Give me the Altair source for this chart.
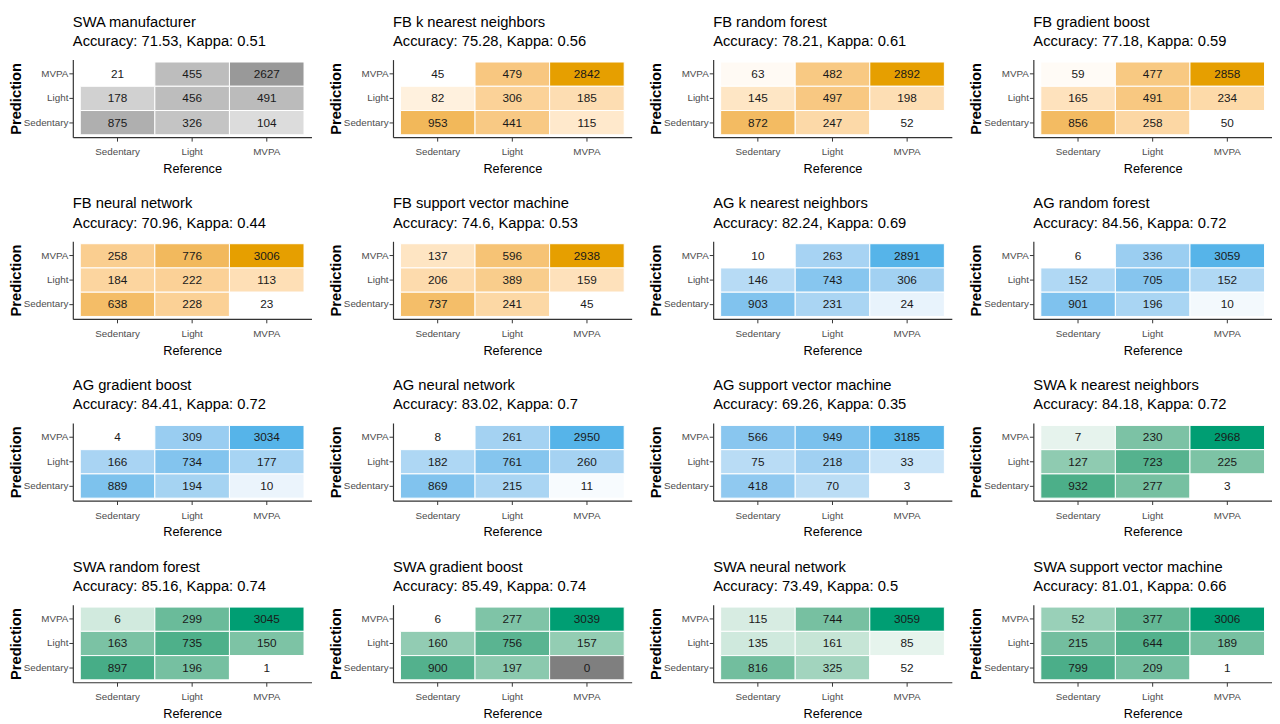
import altair as alt
import pandas as pd

FONT = "Liberation Sans, Arial, sans-serif"

prediction_levels = ["MVPA", "Light", "Sedentary"]   # rows, top to bottom
reference_levels = ["Sedentary", "Light", "MVPA"]    # columns, left to right

panel_names = [
    "SWA manufacturer", "FB k nearest neighbors", "FB random forest", "FB gradient boost",
    "FB neural network", "FB support vector machine", "AG k nearest neighbors", "AG random forest",
    "AG gradient boost", "AG neural network", "AG support vector machine", "SWA k nearest neighbors",
    "SWA random forest", "SWA gradient boost", "SWA neural network", "SWA support vector machine",
]
accuracy = [71.53, 75.28, 78.21, 77.18, 70.96, 74.6, 82.24, 84.56,
            84.41, 83.02, 69.26, 84.18, 85.16, 85.49, 73.49, 81.01]
kappa = [0.51, 0.56, 0.61, 0.59, 0.44, 0.53, 0.69, 0.72,
         0.72, 0.7, 0.35, 0.72, 0.74, 0.74, 0.5, 0.66]
device = ["SWA0", "FB", "FB", "FB", "FB", "FB", "AG", "AG",
          "AG", "AG", "AG", "SWA", "SWA", "SWA", "SWA", "SWA"]
device_colors = {"SWA0": "#999999", "FB": "#E69F00", "AG": "#56B4E9", "SWA": "#009E73"}
zero_color = "#7F7F7F"

# counts[panel][prediction row (MVPA, Light, Sedentary)][reference col (Sedentary, Light, MVPA)]
swa_manufacturer = [[21, 455, 2627], [178, 456, 491], [875, 326, 104]]
fb_knn = [[45, 479, 2842], [82, 306, 185], [953, 441, 115]]
fb_rf = [[63, 482, 2892], [145, 497, 198], [872, 247, 52]]
fb_gb = [[59, 477, 2858], [165, 491, 234], [856, 258, 50]]
fb_nn = [[258, 776, 3006], [184, 222, 113], [638, 228, 23]]
fb_svm = [[137, 596, 2938], [206, 389, 159], [737, 241, 45]]
ag_knn = [[10, 263, 2891], [146, 743, 306], [903, 231, 24]]
ag_rf = [[6, 336, 3059], [152, 705, 152], [901, 196, 10]]
ag_gb = [[4, 309, 3034], [166, 734, 177], [889, 194, 10]]
ag_nn = [[8, 261, 2950], [182, 761, 260], [869, 215, 11]]
ag_svm = [[566, 949, 3185], [75, 218, 33], [418, 70, 3]]
swa_knn = [[7, 230, 2968], [127, 723, 225], [932, 277, 3]]
swa_rf = [[6, 299, 3045], [163, 735, 150], [897, 196, 1]]
swa_gb = [[6, 277, 3039], [160, 756, 157], [900, 197, 0]]
swa_nn = [[115, 744, 3059], [135, 161, 85], [816, 325, 52]]
swa_svm = [[52, 377, 3006], [215, 644, 189], [799, 209, 1]]

counts = [swa_manufacturer, fb_knn, fb_rf, fb_gb, fb_nn, fb_svm, ag_knn, ag_rf,
          ag_gb, ag_nn, ag_svm, swa_knn, swa_rf, swa_gb, swa_nn, swa_svm]

PW, PH = 243, 79


def panel(i):
    rows = []
    for r, pred in enumerate(prediction_levels):
        for c, ref in enumerate(reference_levels):
            rows.append({"Reference": ref, "Prediction": pred, "n": counts[i][r][c]})
    df = pd.DataFrame(rows)
    base = alt.Chart(df)
    x = alt.X("Reference:N", sort=reference_levels, title="Reference",
              scale=alt.Scale(paddingInner=0, paddingOuter=0.1),
              axis=alt.Axis(labelAngle=0, labelPadding=6, titlePadding=6))
    y = alt.Y("Prediction:N", sort=prediction_levels, title="Prediction",
              scale=alt.Scale(paddingInner=0, paddingOuter=0.1),
              axis=alt.Axis(titleFontWeight="bold", titleFontSize=15,
                            labelPadding=1, titlePadding=0))
    rect = base.transform_filter("datum.n > 0").mark_rect(stroke="white", strokeWidth=1).encode(
        x=x, y=y,
        color=alt.Color("n:Q", legend=None,
                        scale=alt.Scale(type="log", range=["#FFFFFF", device_colors[device[i]]],
                                        interpolate="lab")),
    )
    zero = base.transform_filter("datum.n == 0").mark_rect(
        stroke="white", strokeWidth=1, fill=zero_color).encode(x=x, y=y)
    text = base.mark_text(font=FONT, fontSize=12, color="#1a1a1a").encode(
        x=x, y=y, text="n:Q")
    title = alt.Title(
        [panel_names[i], f"Accuracy: {accuracy[i]}, Kappa: {kappa[i]}"],
        anchor="start", frame="group", font=FONT, fontSize=15, fontWeight="normal",
        lineHeight=19.5, color="#000000", offset=11,
    )
    return alt.layer(rect, zero, text).resolve_scale(color="independent").properties(
        width=PW, height=PH, title=title)


chart = alt.concat(*[panel(i) for i in range(16)], columns=4,
                   spacing={"row": 21, "column": 17}).resolve_scale(color="independent").configure(
    padding=0,
    background="white",
).configure_view(stroke=None).configure_axis(
    domainColor="#333333", domainWidth=1.2, tickColor="#333333", tickSize=4,
    labelColor="#4D4D4D", labelFont=FONT, labelFontSize=10,
    titleFont=FONT, titleFontSize=13, titleColor="#000000", titleFontWeight="normal",
    grid=False,
)

chart.save("out.html", embed_options={"renderer": "svg", "actions": False})
